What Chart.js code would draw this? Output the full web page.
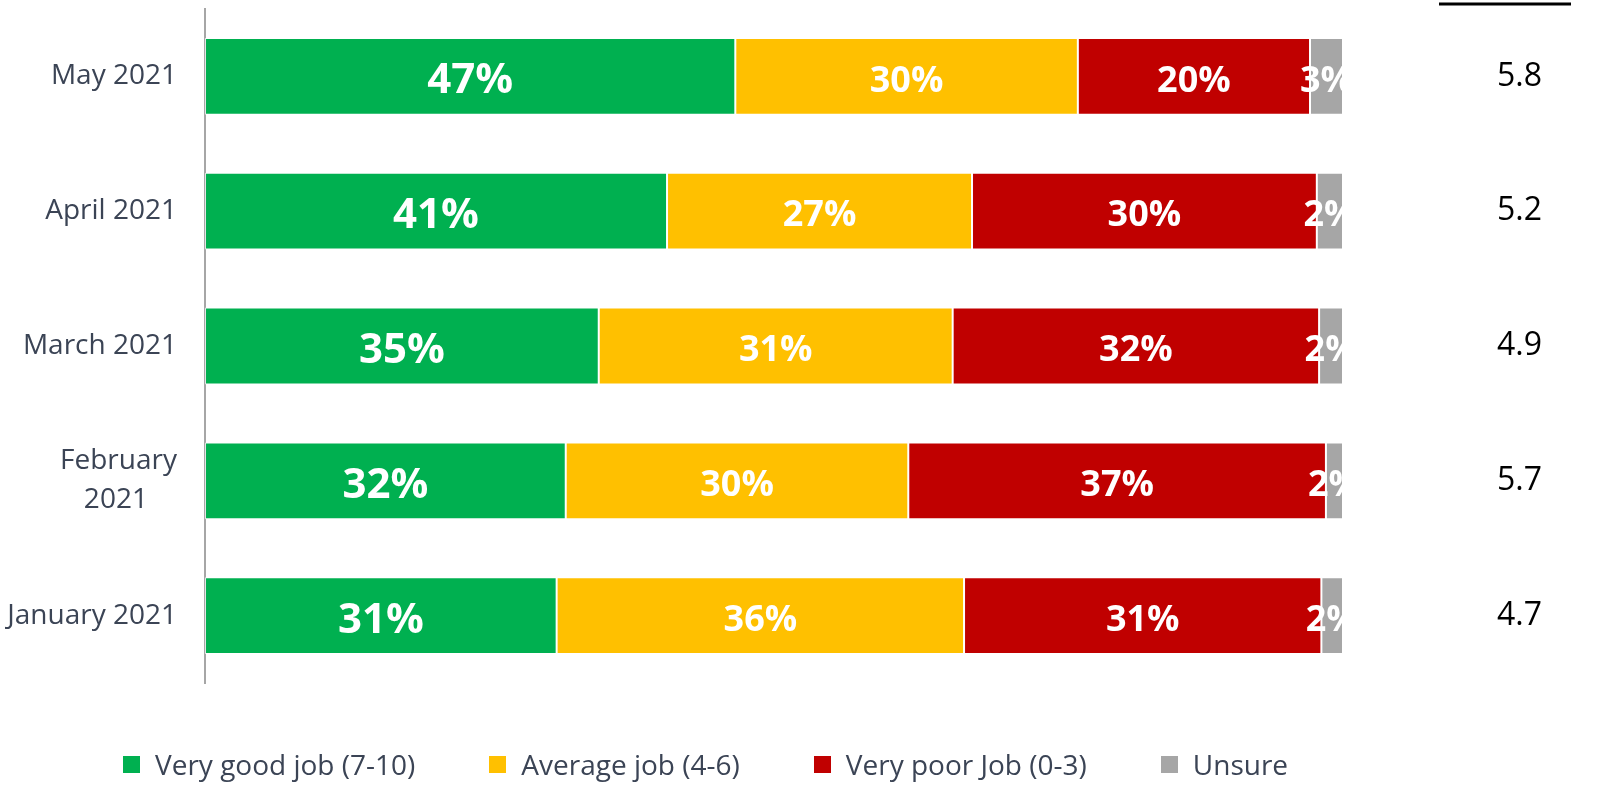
<!DOCTYPE html>
<html>
<head>
<meta charset="utf-8">
<script src="https://cdn.jsdelivr.net/npm/chart.js@4.4.1/dist/chart.umd.min.js"></script>
<style>
  html, body { margin: 0; padding: 0; background: #fff; }
  #wrap { position: relative; width: 1600px; height: 785px; }
  #legend {
    position: absolute; left: 123px; top: 745px;
    display: flex; align-items: center;
    font-family: "Open Sans", sans-serif; font-size: 28px; color: #3b4455;
  }
  #legend .item { display: flex; align-items: center; margin-right: 74px; white-space: nowrap; }
  #legend .box { width: 17px; height: 17px; margin-right: 15px; }
</style>
</head>
<body>
<div id="wrap">
  <canvas id="chart" width="1600" height="785"></canvas>
  <div id="legend"></div>
</div>
<script>
const categories = ["May 2021", "April 2021", "March 2021", ["February", "2021    "], "January 2021"];
const veryGood = [46.6, 40.6, 34.6, 31.7, 30.9];
const average = [30.1, 26.8, 31.1, 30.1, 35.8];
const veryPoor = [20.4, 30.3, 32.2, 36.7, 31.4];
const unsure = [2.9, 2.3, 2.1, 1.5, 1.9];
const scores = ["5.8", "5.2", "4.9", "5.7", "4.7"];

const seriesNames = ["Very good job (7-10)", "Average job (4-6)", "Very poor Job (0-3)", "Unsure"];
const colors = ["#00b050", "#ffc000", "#c00000", "#a6a6a6"];
const textColor = "#3b4455";

// labels inside the bars, clipped to the plot area
const barLabels = {
  id: "barLabels",
  afterDatasetsDraw(chart) {
    const { ctx, chartArea } = chart;
    ctx.save();
    ctx.beginPath();
    ctx.rect(chartArea.left, chartArea.top, chartArea.right - chartArea.left, chartArea.bottom - chartArea.top);
    ctx.clip();
    ctx.fillStyle = "#fff";
    ctx.textAlign = "center";
    ctx.textBaseline = "middle";
    chart.data.datasets.forEach((ds, i) => {
      const meta = chart.getDatasetMeta(i);
      ctx.font = (i === 0 ? "bold 42px" : "bold 36px") + ' "Open Sans", sans-serif';
      meta.data.forEach((bar, j) => {
        const x = (bar.x + bar.base) / 2;
        ctx.fillText(Math.round(ds.data[j]) + "%", x, bar.y + 5);
      });
    });
    ctx.restore();
  }
};

// short rule above the score column
const scoreRule = {
  id: "scoreRule",
  afterDraw(chart) {
    const s = chart.scales.score;
    const { ctx } = chart;
    ctx.save();
    ctx.strokeStyle = "#000";
    ctx.lineWidth = 3;
    ctx.beginPath();
    ctx.moveTo(s.left + 96, 4);
    ctx.lineTo(s.left + 228, 4);
    ctx.stroke();
    ctx.restore();
  }
};

function noPad(s) {
  s.paddingTop = 0;
  s.paddingBottom = 0;
}

const chart = new Chart(document.getElementById("chart"), {
  type: "bar",
  data: {
    labels: categories,
    datasets: [veryGood, average, veryPoor, unsure].map((d, i) => ({
      label: seriesNames[i],
      data: d,
      backgroundColor: colors[i],
      borderColor: "rgba(255,255,255,0.7)",
      borderWidth: 1,
      borderSkipped: false,
      barPercentage: 0.57,
      categoryPercentage: 1
    }))
  },
  options: {
    indexAxis: "y",
    responsive: false,
    animation: false,
    layout: { padding: { top: 9, bottom: 102, left: 0, right: 0 } },
    plugins: { legend: { display: false }, tooltip: { enabled: false } },
    scales: {
      x: { stacked: true, min: 0, max: 100, display: false },
      y: {
        stacked: true,
        grid: { display: false, drawTicks: false },
        border: { display: true, color: "#a6a6a6", width: 2 },
        ticks: {
          color: textColor,
          padding: 28,
          font: { family: "Open Sans", size: 28, lineHeight: 1.4 }
        },
        afterFit(s) { s.width = 205; noPad(s); }
      },
      score: {
        type: "category",
        labels: scores,
        position: "right",
        offset: true,
        grid: { display: false, drawTicks: false },
        border: { display: false },
        ticks: {
          color: "#000",
          crossAlign: "center",
          padding: 154,
          font: { family: "Open Sans", size: 32 }
        },
        afterFit(s) { s.width = 257; noPad(s); }
      }
    }
  },
  plugins: [barLabels, scoreRule]
});

document.getElementById("legend").innerHTML = seriesNames.map((n, i) =>
  `<div class="item"><span class="box" style="background:${colors[i]}"></span>${n}</div>`
).join("");
</script>
</body>
</html>
